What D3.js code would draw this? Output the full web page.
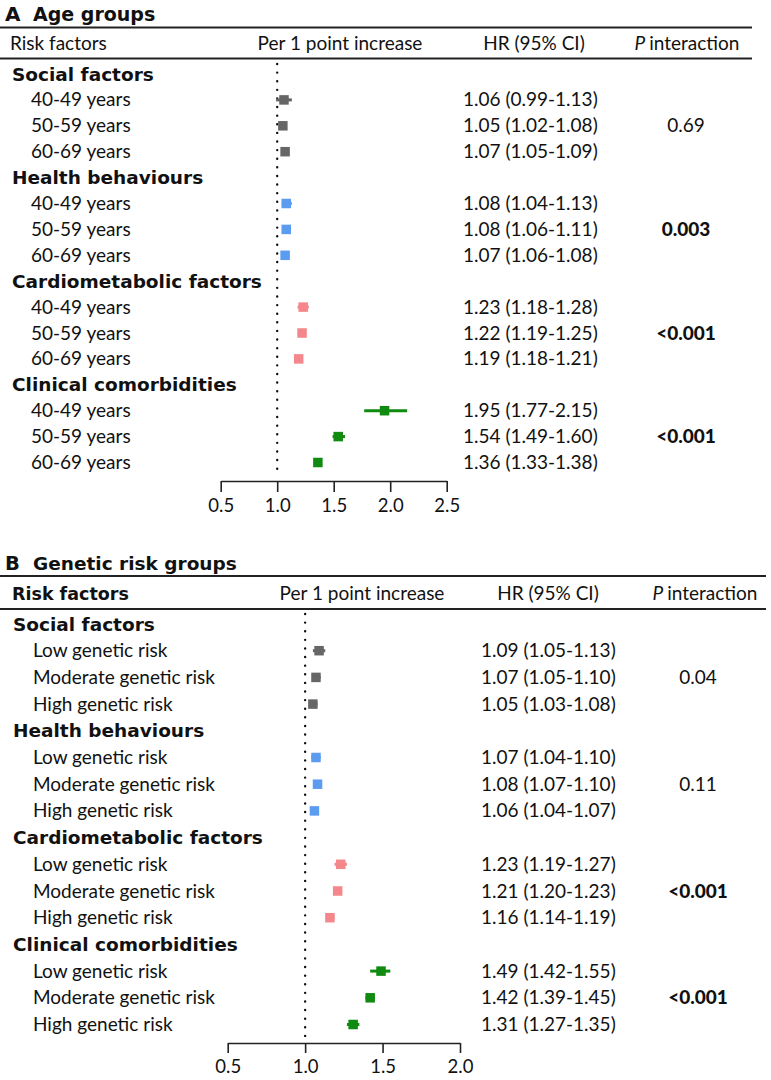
<!DOCTYPE html>
<html><head><meta charset="utf-8">
<script src="https://cdn.jsdelivr.net/npm/d3@7"></script>
<style>body{margin:0;background:#fff} text{fill:#111}</style>
</head><body><svg id="c" width="771" height="1080"></svg>
<script>
// ---- data ----
const groups = ["Social factors","Health behaviours","Cardiometabolic factors","Clinical comorbidities"];
const ageLabels = ["40-49 years","50-59 years","60-69 years"];
const ageHR = [1.06,1.05,1.07, 1.08,1.08,1.07, 1.23,1.22,1.19, 1.95,1.54,1.36];
const ageLo = [0.99,1.02,1.05, 1.04,1.06,1.06, 1.18,1.19,1.18, 1.77,1.49,1.33];
const ageHi = [1.13,1.08,1.09, 1.13,1.11,1.08, 1.28,1.25,1.21, 2.15,1.60,1.38];
const ageP = ["0.69","0.003","<0.001","<0.001"];
const ageTicks = [0.5,1.0,1.5,2.0,2.5];
const genLabels = ["Low genetic risk","Moderate genetic risk","High genetic risk"];
const genHR = [1.09,1.07,1.05, 1.07,1.08,1.06, 1.23,1.21,1.16, 1.49,1.42,1.31];
const genLo = [1.05,1.05,1.03, 1.04,1.07,1.04, 1.19,1.20,1.14, 1.42,1.39,1.27];
const genHi = [1.13,1.10,1.08, 1.10,1.10,1.07, 1.27,1.23,1.19, 1.55,1.45,1.35];
const genP = ["0.04","0.11","<0.001","<0.001"];
const genTicks = [0.5,1.0,1.5,2.0];
const headers = ["Risk factors","Per 1 point increase","HR (95% CI)","interaction"];
const groupColors = ["#666666","#5b9cf0","#f4878b","#108a10"];

const svg = d3.select("#c");
const REG = 'Lato,"Open Sans",sans-serif';
const BOLD = '"DejaVu Sans",sans-serif';

function txt(g, x, y, size, s, bold){
  return g.append("text").attr("x",x).attr("y",y).attr("font-size",size)
    .style("font-family", bold ? BOLD : REG).attr("font-weight", bold ? 700 : 400).text(s);
}

function panel(cfg, subs, hr, lo, hi, pv, ticks){
  const g = svg.append("g");
  const fs = cfg.fs;
  // title
  txt(g, cfg.letterX, cfg.titleBase, cfg.titleFs+1, cfg.letter, true);
  txt(g, cfg.titleX, cfg.titleBase, cfg.titleFs, cfg.title, true);
  [cfg.line1,cfg.line2].forEach(y=>g.append("line").attr("x1",0).attr("x2",cfg.lineEnd).attr("y1",y).attr("y2",y).attr("stroke","#222").attr("stroke-width",2));
  // headers
  if(cfg.headBold) txt(g, cfg.hRisk, cfg.headBase, cfg.headBoldFs, headers[0], true);
  else txt(g, cfg.hRisk, cfg.headBase, fs, headers[0], false);
  txt(g, cfg.hPer, cfg.headBase, fs, headers[1], false).attr("text-anchor","middle");
  txt(g, cfg.hHR, cfg.headBase, fs, headers[2], false).attr("text-anchor","middle");
  const pt = txt(g, cfg.hP, cfg.headBase, fs, "", false).attr("text-anchor","middle");
  pt.append("tspan").attr("font-style","italic").text("P ");
  pt.append("tspan").text(headers[3]);

  const x = d3.scaleLinear().domain([ticks[0],ticks[ticks.length-1]]).range([cfg.ax0,cfg.ax1]);
  const rows = [];
  groups.forEach((gr,gi)=>{
    rows.push({type:"h",label:gr,gi});
    subs.forEach((s,si)=>rows.push({type:"s",label:s,gi,i:gi*3+si}));
  });
  const y = i => cfg.row0 + i*cfg.step;
  // reference line
  g.append("line").attr("x1",x(1)).attr("x2",x(1)).attr("y1",cfg.refTop).attr("y2",cfg.refBot)
    .attr("stroke","#111").attr("stroke-width",2.4).attr("stroke-dasharray","0.01,8.6").attr("stroke-linecap","round");
  rows.forEach((r,ri)=>{
    const yy = y(ri);
    if(r.type==="h"){
      txt(g, cfg.gx, yy+6.5, cfg.groupFs, r.label, true);
    } else {
      txt(g, cfg.sx, yy+6.5, fs, r.label, false);
      const c = groupColors[r.gi];
      g.append("line").attr("x1",x(lo[r.i])).attr("x2",x(hi[r.i])).attr("y1",yy).attr("y2",yy).attr("stroke",c).attr("stroke-width",3);
      g.append("rect").attr("x",x(hr[r.i])-4.75).attr("y",yy-4.75).attr("width",9.5).attr("height",9.5).attr("fill",c);
      txt(g, cfg.cHR, yy+6.5, fs,
        d3.format(".2f")(hr[r.i])+" ("+d3.format(".2f")(lo[r.i])+"-"+d3.format(".2f")(hi[r.i])+")", false);
      if((r.i%3)===1){
        const p = pv[r.gi];
        const bold = p.startsWith("<") || p==="0.003";
        txt(g, cfg.cP, yy+6.5, fs, p, false).attr("text-anchor","middle").attr("font-weight",bold?900:400);
      }
    }
  });
  // axis
  const ax = g.append("g").attr("transform",`translate(0,${cfg.axisY})`)
    .call(d3.axisBottom(x).tickValues(ticks).tickFormat(d3.format(".1f")).tickSize(cfg.tickLen).tickSizeOuter(0).tickPadding(cfg.tickPad));
  ax.select(".domain").attr("stroke","#222").attr("stroke-width",1.6);
  ax.selectAll(".tick line").attr("stroke","#222").attr("stroke-width",1.6);
  ax.selectAll(".tick text").attr("font-size",18.5).style("font-family",REG).attr("fill","#111");
}

panel({letter:"A",title:"Age groups",letterX:5,titleX:33,titleBase:20.5,titleFs:19,line1:27.5,headBase:50,line2:58.5,
  hRisk:10,hPer:340,hHR:534,hP:687,headBold:false,lineEnd:752,
  row0:74,step:25.9,gx:12,sx:31,cHR:463,cP:686,fs:19,groupFs:18.5,
  ax0:220.7,ax1:446.7,axisY:481,tickLen:11,tickPad:7,refTop:64,refBot:477},
  ageLabels,ageHR,ageLo,ageHi,ageP,ageTicks);

panel({letter:"B",title:"Genetic risk groups",letterX:5,titleX:33,titleBase:570,titleFs:18.5,line1:576,headBase:600,line2:609,
  hRisk:12,hPer:362,hHR:548,hP:705,headBold:true,headBoldFs:17.5,lineEnd:766,
  row0:624,step:26.7,gx:13,sx:33,cHR:481,cP:698,fs:19,groupFs:18.5,
  ax0:227.7,ax1:460,axisY:1043,tickLen:10,tickPad:7,refTop:614,refBot:1039},
  genLabels,genHR,genLo,genHi,genP,genTicks);
</script></body></html>
